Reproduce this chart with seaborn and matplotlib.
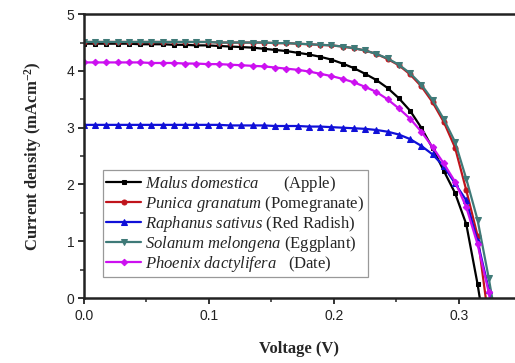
import matplotlib
matplotlib.use("Agg")
import matplotlib.pyplot as plt
import seaborn as sns
import numpy as np
import pandas as pd
from matplotlib.ticker import MultipleLocator

voltage = [0.000, 0.009, 0.018, 0.027, 0.036, 0.045, 0.054, 0.063, 0.072, 0.081,
           0.090, 0.099, 0.108, 0.117, 0.126, 0.135, 0.144, 0.153, 0.162, 0.171,
           0.180, 0.189, 0.198, 0.207, 0.216, 0.225, 0.234, 0.243, 0.252, 0.261,
           0.270, 0.279, 0.288, 0.297, 0.306, 0.315, 0.324, 0.333]

malus = [4.48, 4.48, 4.48, 4.48, 4.48, 4.47, 4.47, 4.47, 4.46, 4.46,
         4.45, 4.45, 4.44, 4.43, 4.42, 4.41, 4.39, 4.37, 4.35, 4.32,
         4.29, 4.25, 4.20, 4.13, 4.05, 3.95, 3.84, 3.70, 3.52, 3.30,
         3.00, 2.64, 2.24, 1.85, 1.30, 0.25, -1.00, -2.00]

punica = [4.51, 4.51, 4.51, 4.51, 4.51, 4.51, 4.51, 4.51, 4.51, 4.51,
          4.51, 4.51, 4.50, 4.50, 4.50, 4.50, 4.50, 4.49, 4.49, 4.48,
          4.47, 4.46, 4.45, 4.43, 4.40, 4.36, 4.30, 4.21, 4.10, 3.94,
          3.73, 3.45, 3.10, 2.65, 1.90, 1.10, -0.40, -1.50]

raphanus = [3.05, 3.05, 3.05, 3.05, 3.05, 3.05, 3.05, 3.05, 3.05, 3.05,
            3.05, 3.05, 3.05, 3.04, 3.04, 3.04, 3.04, 3.03, 3.03, 3.03,
            3.02, 3.02, 3.01, 3.00, 2.99, 2.98, 2.96, 2.93, 2.88, 2.80,
            2.68, 2.53, 2.32, 2.02, 1.72, 1.00, 0.15, -1.00]

solanum = [4.51, 4.51, 4.51, 4.51, 4.51, 4.51, 4.51, 4.51, 4.51, 4.51,
           4.51, 4.51, 4.50, 4.50, 4.50, 4.50, 4.50, 4.49, 4.49, 4.48,
           4.47, 4.46, 4.45, 4.43, 4.40, 4.36, 4.30, 4.22, 4.11, 3.96,
           3.76, 3.49, 3.15, 2.75, 2.10, 1.38, 0.35, -0.80]

phoenix = [4.15, 4.15, 4.15, 4.15, 4.15, 4.15, 4.14, 4.14, 4.14, 4.13,
           4.13, 4.12, 4.12, 4.11, 4.10, 4.09, 4.08, 4.06, 4.04, 4.02,
           3.99, 3.95, 3.91, 3.86, 3.80, 3.72, 3.63, 3.50, 3.34, 3.16,
           2.93, 2.66, 2.37, 2.05, 1.60, 0.95, 0.10, -1.00]

labels = [r"$\mathit{Malus\ domestica}$      (Apple)",
          r"$\mathit{Punica\ granatum\ (}$Pomegranate$\mathit{)}$",
          r"$\mathit{Raphanus\ sativus}$ (Red Radish)",
          r"$\mathit{Solanum\ melongena}$ (Eggplant)",
          r"$\mathit{Phoenix\ dactylifera}$   (Date)"]
series = [malus, punica, raphanus, solanum, phoenix]
colors = ["#000000", "#C0141C", "#1010D8", "#3F7A78", "#CC10F0"]
markers = ["s", "o", "^", "v", "D"]
msizes = [3.3, 3.6, 4.0, 4.0, 3.3]

sns.set_style("ticks")
plt.rcParams["font.family"] = ["Liberation Sans", "DejaVu Sans"]
plt.rcParams["mathtext.fontset"] = "custom"
plt.rcParams["mathtext.rm"] = "Liberation Serif"
plt.rcParams["mathtext.it"] = "Liberation Serif:italic"
plt.rcParams["mathtext.bf"] = "Liberation Serif:bold"

fig = plt.figure(figsize=(5.15, 3.63), dpi=100)
ax = fig.add_axes([0.163, 0.179, 0.837, 0.782])

for lab, vals, c, m, ms in zip(labels, series, colors, markers, msizes):
    df = pd.DataFrame({"V": voltage, "J": vals})
    sns.lineplot(data=df, x="V", y="J", ax=ax, color=c, marker=m,
                 markersize=ms, markeredgecolor=c, linewidth=1.6,
                 label=lab, sort=False, estimator=None)

ax.set_xlim(0, 0.345)
ax.set_ylim(0, 5)
ax.xaxis.set_major_locator(MultipleLocator(0.1))
ax.xaxis.set_minor_locator(MultipleLocator(0.05))
ax.yaxis.set_major_locator(MultipleLocator(1))
ax.yaxis.set_minor_locator(MultipleLocator(0.5))
ax.set_xticks([0.0, 0.1, 0.2, 0.3])
ax.set_xticklabels(["0.0", "0.1", "0.2", "0.3"])
ax.tick_params(axis="both", which="major", direction="out", length=4, width=1.3,
               labelsize=10, colors="#222222", pad=3)
ax.tick_params(axis="both", which="minor", direction="out", length=3, width=1.1)
ax.tick_params(axis="x", pad=4)
for s in ["left", "bottom", "top"]:
    ax.spines[s].set_linewidth(1.8)
    ax.spines[s].set_color("#222222")
ax.spines["right"].set_visible(False)

ax.set_xlabel("Voltage (V)", fontsize=12, fontweight="bold",
              family="Liberation Serif", labelpad=13)
ax.set_ylabel(r"Current density (mAcm$^{\mathbf{-2}}$)", fontsize=12,
              fontweight="bold", family="Liberation Serif", labelpad=16)

leg = ax.legend(loc="lower left", bbox_to_anchor=(0.044, 0.074),
                prop={"family": "Liberation Serif", "size": 12},
                frameon=True, fancybox=False, framealpha=1, edgecolor="#999999",
                handlelength=2.1, handletextpad=0.25, borderpad=0.2,
                labelspacing=0.0, borderaxespad=0)
leg.get_frame().set_linewidth(0.9)

fig.savefig("out.png", dpi=100)
